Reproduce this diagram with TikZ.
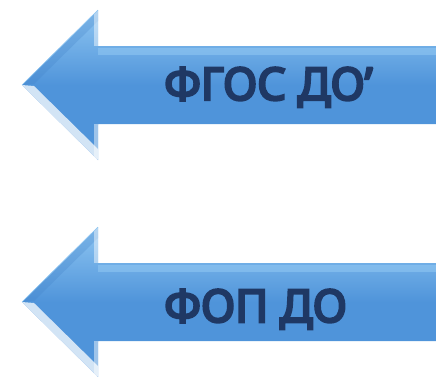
\documentclass[tikz,border=0pt]{standalone}
\usepackage{fontspec}
\setmainfont{Noto Sans}[BoldFont={Noto Sans}, BoldFeatures={FakeBold=5.5}]
\usetikzlibrary{positioning}

\definecolor{arrowblue}{HTML}{4F94DA}
\definecolor{arrowlight}{HTML}{8FC6F2}
\definecolor{arrowdark}{HTML}{3F7FC6}
\definecolor{labelnavy}{HTML}{1F3864}

\tikzset{
  arrowbody/.style={top color=arrowlight, bottom color=arrowblue, middle color=arrowblue},
  arrowlabel/.style={text=labelnavy, font=\bfseries\fontsize{45}{45}\selectfont, inner sep=0pt, anchor=base west},
}

\begin{document}
\begin{tikzpicture}[x=1pt,y=-1pt]
  \useasboundingbox (0,0) rectangle (436,376);

  \foreach \yc/\yb/\nm/\txt in {85/100/fgos/{ФГОС ДО’}, 302/322/fop/{ФОП ДО}} {
    % arrow outline
    \shade[arrowbody] (22,\yc) -- (98,\yc-75) -- (98,\yc-39) -- (436,\yc-39)
      -- (436,\yc+39) -- (98,\yc+39) -- (98,\yc+75) -- cycle;
    % bevel faces of the head
    \fill[white, opacity=0.75] (22,\yc) -- (98,\yc+75) -- (98,\yc+64) -- (34,\yc+1) -- cycle;
    \fill[arrowdark, opacity=0.25] (22,\yc) -- (98,\yc-75) -- (98,\yc-64) -- (34,\yc-1) -- cycle;
    \fill[white, opacity=0.45] (94,\yc-74) rectangle (98,\yc-39);
    \fill[white, opacity=0.45] (94,\yc+39) rectangle (98,\yc+74);
    \fill[arrowlight, opacity=0.6] (98,\yc-37) rectangle (436,\yc-30);
    \draw[arrowlight, line width=0.6pt] (22,\yc) -- (98,\yc-75);
    % label
    \node[arrowlabel] (\nm) at (164,\yb) {\txt};
  }
\end{tikzpicture}
\end{document}
